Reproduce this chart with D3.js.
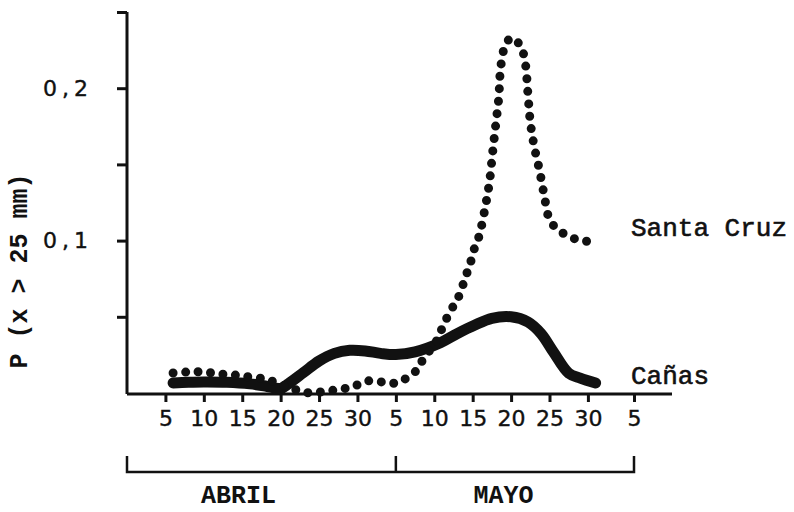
<!DOCTYPE html>
<html>
<head>
<meta charset="utf-8">
<script src="https://cdn.jsdelivr.net/npm/d3@7"></script>
<style>
  body { margin: 0; background: #fff; }
  svg { display: block; }
</style>
</head>
<body>
<svg id="chart" width="794" height="512"></svg>
<script>
// Days are counted from 1 April (1 May = day 31, 5 June = day 66).
const dayTicks = [5, 10, 15, 20, 25, 30, 35, 40, 45, 50, 55, 60, 66];
const dayTickLabels = ["5", "10", "15", "20", "25", "30", "5", "10", "15", "20", "25", "30", "5"];
const valueTicks = [0.05, 0.1, 0.15, 0.2, 0.25];
const valueTickLabels = ["", "0,1", "", "0,2", ""];
const monthNames = ["ABRIL", "MAYO"];
const monthBounds = [0, 35, 66];
const monthLabelDays = [14.5, 49];

// Santa Cruz (dotted curve)
const santaCruzDay = [6, 8, 10, 12, 14, 16, 18, 19.5, 21, 22.5, 24, 26, 28, 29.6, 31.3, 33.3, 35.2,
  36.7, 38.0, 38.6, 40.0, 40.8, 41.7, 42.7, 43.4, 44.0, 44.6, 45.1, 45.8, 46.6, 47.2, 47.6, 48.0,
  48.4, 48.6, 49.1, 50, 51.2, 51.8, 52.2, 52.5, 53.0, 53.7, 54.3, 55.0, 56.1, 57.5, 59.0, 60.5];
const santaCruzP = [0.0131, 0.0138, 0.0138, 0.0125, 0.0118, 0.0105, 0.0092, 0.0066, 0.0039, 0.0013, 0.0, 0.0013, 0.0026, 0.0046, 0.0079, 0.0072, 0.0066,
  0.011, 0.0164, 0.023, 0.0315, 0.040, 0.0499, 0.059, 0.0656, 0.0755, 0.0833, 0.093, 0.1024, 0.121, 0.139, 0.158, 0.176,
  0.194, 0.211, 0.226, 0.233, 0.228, 0.218, 0.196, 0.178, 0.162, 0.146, 0.130, 0.114, 0.107, 0.103, 0.100, 0.0995];

// Cañas (solid curve)
const canasDay = [6, 8, 10, 13, 16, 18, 20, 21, 23, 25, 27, 29, 31, 33, 35, 37.5, 40.8, 43, 45.3, 47.5, 50, 52.2, 53.9, 55.5, 57.5, 59, 61];
const canasP = [0.0066, 0.007, 0.0072, 0.007, 0.006, 0.0046, 0.003, 0.006, 0.0135, 0.021, 0.026, 0.028, 0.0276, 0.026, 0.0252, 0.027, 0.033, 0.039, 0.0446, 0.049, 0.050, 0.0466, 0.039, 0.027, 0.013, 0.0098, 0.0066];

const seriesNames = ["Santa Cruz", "Cañas"];

const svg = d3.select("#chart");
const ink = "#111";
const monoFont = "'Liberation Mono', 'Courier New', monospace";
const sansFont = "'DejaVu Sans', 'Liberation Sans', sans-serif";

const x = d3.scaleLinear().domain([0, 66]).range([127, 634]);
const y = d3.scaleLinear().domain([0, 0.25]).range([393, 12]);
const axisY = 394;
const axisEndX = 672;

// y axis
const yAxis = svg.append("g")
  .attr("transform", `translate(${x(0)},0)`)
  .call(d3.axisLeft(y)
    .tickValues(valueTicks)
    .tickSize(10)
    .tickSizeOuter(0)
    .tickPadding(29)
    .tickFormat((d, i) => valueTickLabels[i]));
yAxis.select(".domain").attr("d", `M0,${y(0.25)}V${axisY}`)
  .attr("stroke", ink).attr("stroke-width", 3).attr("fill", "none");
yAxis.selectAll(".tick line").attr("stroke", ink).attr("stroke-width", 3);
yAxis.selectAll(".tick text")
  .attr("fill", ink)
  .attr("stroke", ink)
  .attr("stroke-width", 0.4)
  .attr("font-family", sansFont)
  .attr("font-size", 22)
  .attr("letter-spacing", 5)
  .attr("dx", 5);

// x axis
const xAxis = svg.append("g")
  .attr("transform", `translate(0,${axisY})`)
  .call(d3.axisBottom(x)
    .tickValues(dayTicks)
    .tickSize(8)
    .tickSizeOuter(0)
    .tickPadding(8)
    .tickFormat((d, i) => dayTickLabels[i]));
xAxis.select(".domain").attr("d", `M${x(0)},0H${axisEndX}`)
  .attr("stroke", ink).attr("stroke-width", 3).attr("fill", "none");
xAxis.selectAll(".tick line").attr("stroke", ink).attr("stroke-width", 3);
xAxis.selectAll(".tick text")
  .attr("fill", ink)
  .attr("stroke", ink)
  .attr("stroke-width", 0.4)
  .attr("font-family", sansFont)
  .attr("font-size", 22);

// month bracket
const bracketY = 472, bracketTop = 456;
svg.append("path")
  .attr("d", `M${x(monthBounds[0])},${bracketTop}V${bracketY}H${x(monthBounds[2])}V${bracketTop}M${x(monthBounds[1])},${bracketTop}V${bracketY}`)
  .attr("fill", "none").attr("stroke", ink).attr("stroke-width", 2.5);

svg.selectAll("text.month")
  .data(monthNames)
  .join("text")
  .attr("class", "month")
  .attr("x", (d, i) => x(monthLabelDays[i]))
  .attr("y", 503)
  .attr("text-anchor", "middle")
  .attr("font-family", monoFont)
  .attr("font-weight", "bold")
  .attr("font-size", 25)
  .attr("fill", ink)
  .text(d => d);

// y axis title
svg.append("text")
  .attr("transform", "translate(27,271) rotate(-90)")
  .attr("text-anchor", "middle")
  .attr("font-family", monoFont)
  .attr("font-weight", "bold")
  .attr("font-size", 25)
  .attr("fill", ink)
  .text("P (x > 25 mm)");

// curves
const line = d3.line()
  .x(d => x(d[0]))
  .y(d => y(d[1]))
  .curve(d3.curveCatmullRom.alpha(0.5));

const canasPts = canasDay.map((d, i) => [d, canasP[i]]);
const santaPts = santaCruzDay.map((d, i) => [d, santaCruzP[i]]);

svg.append("path")
  .attr("d", line(canasPts))
  .attr("fill", "none")
  .attr("stroke", ink)
  .attr("stroke-width", 11)
  .attr("stroke-linecap", "round")
  .attr("stroke-linejoin", "round");

svg.append("path")
  .attr("d", line(santaPts))
  .attr("fill", "none")
  .attr("stroke", ink)
  .attr("stroke-width", 9)
  .attr("stroke-linecap", "round")
  .attr("stroke-dasharray", "0 12.5");

// series labels beside the curve ends
const labelBaselines = [236, 384];
svg.selectAll("text.series")
  .data(seriesNames)
  .join("text")
  .attr("class", "series")
  .attr("x", 631)
  .attr("y", (d, i) => labelBaselines[i])
  .attr("font-family", monoFont)
  .attr("font-size", 26)
  .attr("fill", ink)
  .attr("stroke", ink)
  .attr("stroke-width", 0.6)
  .text(d => d);
</script>
</body>
</html>
